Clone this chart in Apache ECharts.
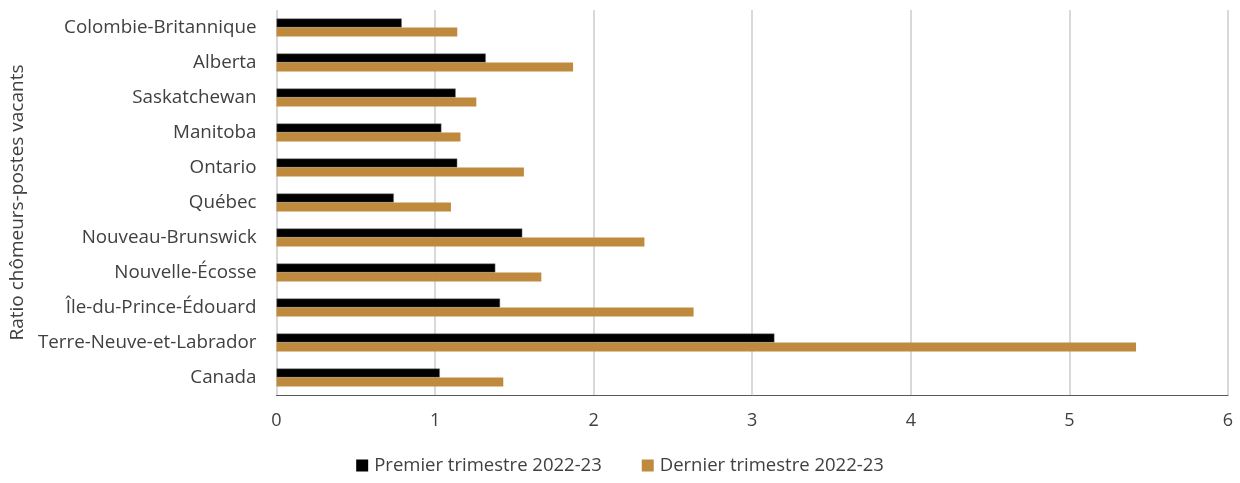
<!DOCTYPE html>
<html>
<head>
<meta charset="utf-8">
<script src="https://cdn.jsdelivr.net/npm/echarts@6/dist/echarts.min.js"></script>
<style>
html, body { margin: 0; padding: 0; background: #fff; }
#chart { width: 1240px; height: 483px; }
</style>
</head>
<body>
<div id="chart"></div>
<script>
// provinces, top to bottom
var provinces = ['Colombie-Britannique', 'Alberta', 'Saskatchewan', 'Manitoba', 'Ontario', 'Québec',
	'Nouveau-Brunswick', 'Nouvelle-Écosse', 'Île-du-Prince-Édouard', 'Terre-Neuve-et-Labrador', 'Canada'];
var premier = [0.79, 1.32, 1.13, 1.04, 1.14, 0.74, 1.55, 1.38, 1.41, 3.14, 1.03];
var dernier = [1.14, 1.87, 1.26, 1.16, 1.56, 1.10, 2.32, 1.67, 2.63, 5.42, 1.43];
var seriesNames = ['Premier trimestre 2022-23', 'Dernier trimestre 2022-23'];
var axisTitle = 'Ratio chômeurs-postes vacants';

var font = 'Open Sans';
var myChart = echarts.init(document.getElementById('chart'));
var option = {
	animation: false,
	textStyle: { fontFamily: font },
	grid: { left: 276, right: 12, top: 10, bottom: 88 },
	legend: {
		data: seriesNames,
		bottom: 3,
		left: 'center',
		icon: 'rect',
		itemWidth: 12,
		itemHeight: 12,
		itemGap: 40,
		itemStyle: { borderWidth: 0 },
		textStyle: { fontSize: 18.5, color: '#404040', fontFamily: font, padding: [0, 0, 0, 1] }
	},
	xAxis: {
		type: 'value',
		min: 0,
		max: 6,
		interval: 1,
		axisLine: { show: true, lineStyle: { color: '#595959', width: 1 } },
		axisTick: { show: false },
		axisLabel: { fontSize: 18, color: '#404040', margin: 17 },
		splitLine: { show: true, lineStyle: { color: '#d9d9d9', width: 2 } }
	},
	yAxis: {
		type: 'category',
		data: provinces,
		inverse: true,
		name: axisTitle,
		nameLocation: 'middle',
		nameRotate: 90,
		nameGap: 245,
		nameTextStyle: { fontSize: 19, color: '#404040' },
		axisLine: { show: false },
		axisTick: { show: false },
		axisLabel: { fontSize: 18.8, color: '#404040', margin: 20 },
		splitLine: { show: false }
	},
	series: [{
		name: seriesNames[0],
		type: 'bar',
		data: premier,
		barWidth: 9,
		barGap: '0%',
		itemStyle: { color: '#000000', borderColor: '#7f7f7f', borderWidth: 0.5 }
	}, {
		name: seriesNames[1],
		type: 'bar',
		data: dernier,
		barWidth: 9,
		itemStyle: { color: '#bf8a3d' }
	}]
};
myChart.setOption(option);

window.onresize = function() {
	myChart.resize();
}
</script>
</body>
</html>
